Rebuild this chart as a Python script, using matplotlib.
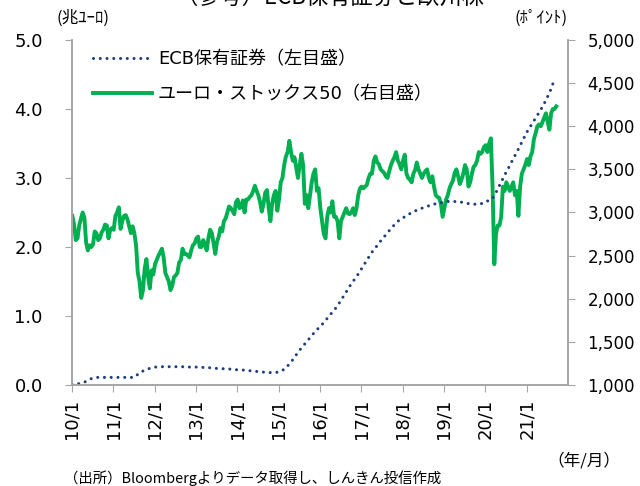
import matplotlib
matplotlib.use("Agg")
import matplotlib.pyplot as plt
from matplotlib.ticker import FuncFormatter

plt.rcParams['font.family'] = ['DejaVu Sans', 'Noto Sans CJK JP']

# ECB holdings of securities (trillion EUR), monthly from 2010/1
ecb_2010 = [0.01, 0.01, 0.02, 0.03, 0.05, 0.08, 0.10, 0.11, 0.11, 0.11, 0.11, 0.11]
ecb_2011 = [0.11, 0.11, 0.11, 0.11, 0.11, 0.11, 0.11, 0.15, 0.19, 0.21, 0.23, 0.25]
ecb_2012 = [0.26, 0.26, 0.265, 0.265, 0.265, 0.265, 0.265, 0.265, 0.265, 0.26, 0.26, 0.26]
ecb_2013 = [0.26, 0.255, 0.255, 0.25, 0.25, 0.245, 0.24, 0.24, 0.235, 0.235, 0.23, 0.225]
ecb_2014 = [0.22, 0.22, 0.215, 0.21, 0.205, 0.20, 0.195, 0.19, 0.185, 0.18, 0.18, 0.18]
ecb_2015 = [0.19, 0.21, 0.24, 0.30, 0.36, 0.43, 0.50, 0.56, 0.62, 0.68, 0.74, 0.80]
ecb_2016 = [0.84, 0.90, 0.96, 1.02, 1.08, 1.14, 1.22, 1.30, 1.38, 1.46, 1.53, 1.60]
ecb_2017 = [1.68, 1.76, 1.84, 1.92, 1.98, 2.05, 2.11, 2.17, 2.23, 2.29, 2.34, 2.39]
ecb_2018 = [2.42, 2.45, 2.48, 2.51, 2.53, 2.55, 2.57, 2.59, 2.60, 2.62, 2.63, 2.64]
ecb_2019 = [2.65, 2.66, 2.66, 2.66, 2.65, 2.65, 2.64, 2.63, 2.62, 2.62, 2.62, 2.63]
ecb_2020 = [2.66, 2.67, 2.70, 2.78, 2.88, 2.98, 3.08, 3.17, 3.27, 3.36, 3.46, 3.56]
ecb_2021 = [3.66, 3.74, 3.82, 3.90, 3.98, 4.07, 4.17, 4.28, 4.42]

# Euro Stoxx 50 (points), twice a month from 2010/1
sx_2010 = [2960, 2860, 2680, 2700, 2850, 2930, 3000, 2940, 2650, 2560, 2620, 2600,
           2630, 2780, 2760, 2680, 2700, 2770, 2800, 2860, 2850, 2700, 2800, 2820]
sx_2011 = [2800, 2960, 3000, 3060, 2810, 2900, 2960, 2970, 2920, 2840, 2760, 2840,
           2760, 2620, 2300, 2200, 2010, 2100, 2350, 2460, 2250, 2120, 2330, 2280]
sx_2012 = [2400, 2450, 2500, 2540, 2580, 2480, 2300, 2250, 2200, 2100, 2150, 2250,
           2270, 2300, 2420, 2450, 2580, 2520, 2520, 2500, 2480, 2560, 2620, 2640]
sx_2013 = [2700, 2720, 2600, 2600, 2680, 2630, 2560, 2700, 2800, 2760, 2640, 2520,
           2660, 2720, 2820, 2780, 2900, 2930, 3000, 3070, 3050, 3020, 2980, 3120]
sx_2014 = [3150, 3050, 3060, 3140, 3000, 3150, 3150, 3180, 3200, 3250, 3310, 3250,
           3200, 3120, 3010, 3100, 3230, 3260, 3050, 2900, 3100, 3200, 3250, 3020]
sx_2015 = [3150, 3350, 3400, 3550, 3650, 3700, 3830, 3700, 3600, 3640, 3520, 3400,
           3550, 3680, 3550, 3100, 3200, 3050, 3200, 3350, 3450, 3500, 3250, 3280]
sx_2016 = [3050, 2900, 2750, 2700, 2950, 3050, 3000, 3130, 2950, 2950, 2900, 2700,
           2900, 2950, 3000, 3050, 2990, 2980, 3000, 3050, 2970, 3050, 3200, 3280]
sx_2017 = [3300, 3280, 3300, 3320, 3400, 3450, 3450, 3600, 3650, 3580, 3560, 3500,
           3480, 3460, 3420, 3400, 3480, 3550, 3600, 3640, 3700, 3600, 3560, 3500]
sx_2018 = [3600, 3670, 3450, 3400, 3380, 3350, 3450, 3490, 3580, 3500, 3450, 3400,
           3450, 3480, 3500, 3400, 3350, 3420, 3300, 3200, 3180, 3170, 3100, 2950]
sx_2019 = [3050, 3150, 3200, 3280, 3330, 3370, 3460, 3500, 3420, 3330, 3380, 3450,
           3550, 3500, 3300, 3350, 3450, 3530, 3550, 3600, 3700, 3680, 3700, 3760]
sx_2020 = [3780, 3700, 3800, 3860, 3300, 2400, 2750, 2850, 2850, 2950, 3300, 3250,
           3350, 3300, 3250, 3300, 3350, 3200, 3250, 2960, 3300, 3450, 3500, 3550]
sx_2021 = [3620, 3550, 3650, 3700, 3850, 3920, 4000, 4020, 4000, 4050, 4100, 4150,
           4050, 3960, 4150, 4200, 4200, 4230]

year_ticks = list(range(2010, 2022))
tick_labels = ["10/1", "11/1", "12/1", "13/1", "14/1", "15/1", "16/1", "17/1",
               "18/1", "19/1", "20/1", "21/1"]

ecb = (ecb_2010 + ecb_2011 + ecb_2012 + ecb_2013 + ecb_2014 + ecb_2015 + ecb_2016
       + ecb_2017 + ecb_2018 + ecb_2019 + ecb_2020 + ecb_2021)
stoxx = (sx_2010 + sx_2011 + sx_2012 + sx_2013 + sx_2014 + sx_2015 + sx_2016
         + sx_2017 + sx_2018 + sx_2019 + sx_2020 + sx_2021)
ecb_x = [2010 + i / 12 for i in range(len(ecb))]
stoxx_x = [2010 + (i * 0.5 + 0.1) / 12 for i in range(len(stoxx))]

gray = "#A6A6A6"
jp = ["Noto Sans CJK JP", "DejaVu Sans"]
fig = plt.figure(figsize=(6.4, 4.86), dpi=100)
ax = fig.add_axes([0.1125, 0.2078, 0.775, 0.71])
ax2 = ax.twinx()

l2, = ax2.plot(stoxx_x, stoxx, color="#00B050", lw=2.8, solid_joinstyle="round",
               label="ユーロ・ストックス50（右目盛）")
l1, = ax.plot(ecb_x, ecb, color="#1F3F7A", lw=2.2, linestyle=(0, (0.01, 2.2)),
              dash_capstyle="round", label="ECB保有証券（左目盛）")
ax.set_zorder(ax2.get_zorder() + 1)
ax.patch.set_visible(False)

ax.set_xlim(2010, 2022)
ax.set_ylim(0, 5)
ax2.set_ylim(1000, 5000)
ax.set_yticks([0, 1, 2, 3, 4, 5])
ax.yaxis.set_major_formatter(FuncFormatter(lambda v, p: f"{v:.1f}"))
ax2.set_yticks(range(1000, 5001, 500))
ax2.yaxis.set_major_formatter(FuncFormatter(lambda v, p: f"{int(v):,}"))
ax.set_xticks(year_ticks)
ax.set_xticklabels(tick_labels, rotation=90)

for a in (ax, ax2):
    a.spines["top"].set_visible(False)
    for s in ("left", "right", "bottom"):
        a.spines[s].set_color(gray)
        a.spines[s].set_linewidth(1.2)
ax.tick_params(axis="y", direction="out", length=5, color=gray, labelsize=13, pad=16)
ax.tick_params(axis="x", direction="out", length=5, color=gray, labelsize=13, pad=5)
ax2.tick_params(axis="y", direction="out", length=5, color=gray, labelsize=12, pad=9)

ax.legend(handles=[l1, l2], loc="upper left", bbox_to_anchor=(0.145, 0.896),
          bbox_transform=fig.transFigure, frameon=False, fontsize=13,
          handlelength=3.3, handletextpad=0.3, labelspacing=0.95,
          borderpad=0, borderaxespad=0)

fig.text(0.088, 0.963, "(兆ﾕｰﾛ)", fontsize=12, ha="left", va="center", family=jp)
fig.text(0.887, 0.963, "(ﾎﾟｲﾝﾄ)", fontsize=12, ha="right", va="center", family=jp)
fig.text(0.515, 1.006, "（参考）ECB保有証券と欧州株", fontsize=16, ha="center",
         va="center", family=jp)
fig.text(0.97, 0.052, "（年/月）", fontsize=12, ha="right", va="center", family=jp)
fig.text(0.1, 0.016, "（出所）Bloombergよりデータ取得し、しんきん投信作成", fontsize=10.4,
         ha="left", va="center", family=jp)

fig.savefig("out.png", dpi=100)
